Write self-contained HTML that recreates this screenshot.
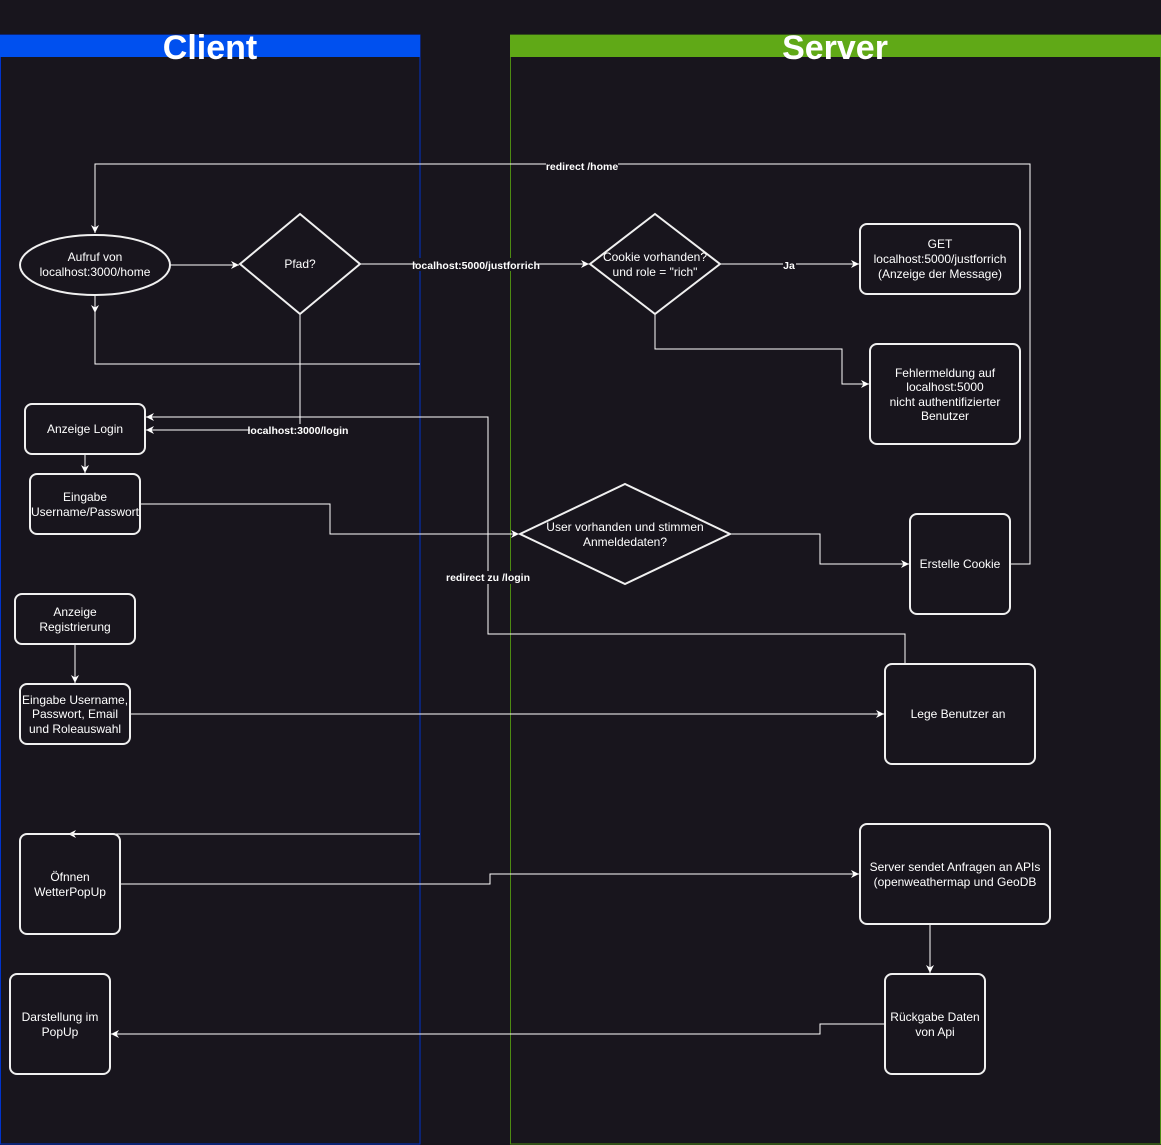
<!DOCTYPE html>
<html><head><meta charset="utf-8"><style>
html,body{margin:0;padding:0;background:#18151d;}
svg{display:block;font-family:"Liberation Sans",Arial,sans-serif;}
.n{fill:none;stroke:#f0f0f0;stroke-width:2;}
.c{fill:none;stroke:#ffffff;stroke-width:1;}
.t{fill:#ffffff;font-size:12px;text-anchor:middle;}
.l{fill:#ffffff;font-size:10.5px;text-anchor:middle;font-weight:bold;}
</style></head><body>
<svg width="1161" height="1145" viewBox="0 0 1161 1145" xmlns="http://www.w3.org/2000/svg">
<defs><marker id="a" markerWidth="10" markerHeight="10" refX="8" refY="5" orient="auto" markerUnits="userSpaceOnUse"><path d="M0,1 L8,5 L0,9 L2.5,5 Z" fill="#fff"/></marker></defs>
<rect width="1161" height="1145" fill="#18151d"/>
<!-- lanes -->
<rect x="0.5" y="35" width="419.5" height="1109" fill="none" stroke="#0033cc" stroke-width="1"/>
<rect x="0" y="35" width="420" height="22" fill="#0050ef"/>
<text x="210" y="59" fill="#fff" font-size="34" font-weight="bold" text-anchor="middle">Client</text>
<rect x="510.5" y="35" width="650" height="1109" fill="none" stroke="#4d8a12" stroke-width="1"/>
<rect x="510" y="35" width="651" height="22" fill="#60a917"/>
<text x="835" y="59" fill="#fff" font-size="34" font-weight="bold" text-anchor="middle">Server</text>

<!-- connectors -->
<path class="c" d="M1010,564 H1030 V164 H95 V233" marker-end="url(#a)"/>
<rect x="546" y="159" width="72" height="13" fill="#18151d"/>
<text class="l" x="582" y="170">redirect /home</text>
<path class="c" d="M170,265 H239" marker-end="url(#a)"/>
<path class="c" d="M420,364 H95 V296"/>
<path class="c" d="M95,300 V313" marker-end="url(#a)"/>
<path class="c" d="M360,264 H589" marker-end="url(#a)"/>
<rect x="416" y="258" width="120" height="13" fill="#18151d"/>
<text class="l" x="476" y="269">localhost:5000/justforrich</text>
<path class="c" d="M720,264 H859" marker-end="url(#a)"/>
<rect x="783" y="258" width="13" height="13" fill="#18151d"/>
<text class="l" x="789" y="269">Ja</text>
<path class="c" d="M655,314 V349 H842 V384 H869" marker-end="url(#a)"/>
<path class="c" d="M300,314 V430 H146" marker-end="url(#a)"/>
<rect x="250" y="424" width="96" height="13" fill="#18151d"/>
<text class="l" x="298" y="434">localhost:3000/login</text>
<path class="c" d="M905,664 V634 H488 V417 H146" marker-end="url(#a)"/>
<rect x="448" y="571" width="82" height="13" fill="#18151d"/>
<text class="l" x="488" y="581">redirect zu /login</text>
<path class="c" d="M85,454 V473" marker-end="url(#a)"/>
<path class="c" d="M140,504 H330 V534 H519" marker-end="url(#a)"/>
<path class="c" d="M730,534 H820 V564 H909" marker-end="url(#a)"/>
<path class="c" d="M75,644 V683" marker-end="url(#a)"/>
<path class="c" d="M130,714 H884" marker-end="url(#a)"/>
<path class="c" d="M420,834 H68" marker-end="url(#a)"/>
<path class="c" d="M120,884 H490 V874 H859" marker-end="url(#a)"/>
<path class="c" d="M930,924 V973" marker-end="url(#a)"/>
<path class="c" d="M885,1024 H820 V1034 H111" marker-end="url(#a)"/>

<!-- nodes -->
<ellipse class="n" cx="95" cy="265" rx="75" ry="30" fill="#18151d"/>
<text class="t" x="95" y="261">Aufruf von</text><text class="t" x="95" y="276">localhost:3000/home</text>
<path class="n" d="M300,214 L360,264 L300,314 L240,264 Z"/>
<text class="t" x="300" y="268">Pfad?</text>
<path class="n" d="M655,214 L720,264 L655,314 L590,264 Z"/>
<text class="t" x="655" y="261">Cookie vorhanden?</text><text class="t" x="655" y="276">und role = "rich"</text>
<rect class="n" x="860" y="224" width="160" height="70" rx="7"/>
<text class="t" x="940" y="248">GET</text><text class="t" x="940" y="263">localhost:5000/justforrich</text><text class="t" x="940" y="278">(Anzeige der Message)</text>
<rect class="n" x="870" y="344" width="150" height="100" rx="7"/>
<text class="t" x="945" y="377">Fehlermeldung auf</text><text class="t" x="945" y="391">localhost:5000</text><text class="t" x="945" y="406">nicht authentifizierter</text><text class="t" x="945" y="420">Benutzer</text>
<rect class="n" x="25" y="404" width="120" height="50" rx="7"/>
<text class="t" x="85" y="433">Anzeige Login</text>
<rect class="n" x="30" y="474" width="110" height="60" rx="7"/>
<text class="t" x="85" y="501">Eingabe</text><text class="t" x="85" y="516">Username/Passwort</text>
<path class="n" d="M625,484 L730,534 L625,584 L520,534 Z"/>
<text class="t" x="625" y="531">User vorhanden und stimmen</text><text class="t" x="625" y="546">Anmeldedaten?</text>
<rect class="n" x="910" y="514" width="100" height="100" rx="7"/>
<text class="t" x="960" y="568">Erstelle Cookie</text>
<rect class="n" x="15" y="594" width="120" height="50" rx="7"/>
<text class="t" x="75" y="616">Anzeige</text><text class="t" x="75" y="631">Registrierung</text>
<rect class="n" x="20" y="684" width="110" height="60" rx="7"/>
<text class="t" x="75" y="704">Eingabe Username,</text><text class="t" x="75" y="718">Passwort, Email</text><text class="t" x="75" y="733">und Roleauswahl</text>
<rect class="n" x="885" y="664" width="150" height="100" rx="7"/>
<text class="t" x="958" y="718">Lege Benutzer an</text>
<rect class="n" x="20" y="834" width="100" height="100" rx="7"/>
<text class="t" x="70" y="881">Öfnnen</text><text class="t" x="70" y="896">WetterPopUp</text>
<rect class="n" x="860" y="824" width="190" height="100" rx="7"/>
<text class="t" x="955" y="871">Server sendet Anfragen an APIs</text><text class="t" x="955" y="886">(openweathermap und GeoDB</text>
<rect class="n" x="10" y="974" width="100" height="100" rx="7"/>
<text class="t" x="60" y="1021">Darstellung im</text><text class="t" x="60" y="1036">PopUp</text>
<rect class="n" x="885" y="974" width="100" height="100" rx="7"/>
<text class="t" x="935" y="1021">Rückgabe Daten</text><text class="t" x="935" y="1036">von Api</text>
</svg>
</body></html>
